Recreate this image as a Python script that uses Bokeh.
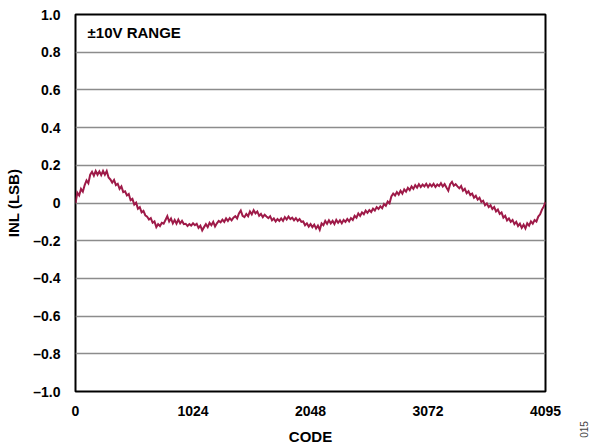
from bokeh.plotting import figure
from bokeh.models import FixedTicker, Range1d, Label, ColumnDataSource
from bokeh.embed import file_html
from bokeh.resources import INLINE
import math

# DAC code axis: measured every 16 codes, plus the final code 4095
codes = list(range(0, 4096, 16)) + [4095]

# Integral nonlinearity (LSB) at each code
inl = [
    0.000, 0.055, 0.040, 0.075, 0.060, 0.095, 0.120, 0.105, 0.150, 0.165, 0.145, 0.170, 0.150, 0.168, 0.148, 0.170,
    0.150, 0.170, 0.135, 0.125, 0.108, 0.122, 0.095, 0.102, 0.075, 0.088, 0.058, 0.062, 0.040, 0.048, 0.015, 0.022,
    -0.008, 0.002, -0.030, -0.022, -0.050, -0.042, -0.065, -0.072, -0.088, -0.080, -0.105, -0.098, -0.128, -0.112, -0.122, -0.105,
    -0.110, -0.090, -0.070, -0.098, -0.082, -0.108, -0.090, -0.110, -0.088, -0.108, -0.095, -0.112, -0.110, -0.122, -0.112, -0.120,
    -0.108, -0.118, -0.110, -0.132, -0.120, -0.145, -0.128, -0.112, -0.128, -0.105, -0.118, -0.100, -0.125, -0.108, -0.095, -0.102,
    -0.088, -0.100, -0.082, -0.095, -0.080, -0.092, -0.078, -0.070, -0.082, -0.055, -0.040, -0.068, -0.075, -0.058, -0.070, -0.045,
    -0.060, -0.038, -0.055, -0.045, -0.068, -0.058, -0.075, -0.062, -0.072, -0.080, -0.070, -0.092, -0.082, -0.098, -0.085, -0.095,
    -0.082, -0.095, -0.075, -0.088, -0.072, -0.085, -0.078, -0.092, -0.080, -0.095, -0.085, -0.100, -0.098, -0.118, -0.108, -0.125,
    -0.112, -0.128, -0.115, -0.135, -0.120, -0.142, -0.108, -0.118, -0.095, -0.110, -0.092, -0.108, -0.095, -0.112, -0.090, -0.105,
    -0.092, -0.108, -0.090, -0.100, -0.085, -0.098, -0.080, -0.090, -0.068, -0.078, -0.055, -0.068, -0.050, -0.060, -0.040, -0.052,
    -0.038, -0.048, -0.030, -0.040, -0.022, -0.032, -0.018, -0.028, -0.005, -0.015, 0.008, -0.002, 0.035, 0.050, 0.040, 0.058,
    0.045, 0.065, 0.050, 0.072, 0.060, 0.080, 0.068, 0.088, 0.075, 0.095, 0.082, 0.100, 0.085, 0.098, 0.088, 0.102,
    0.085, 0.100, 0.088, 0.102, 0.085, 0.098, 0.090, 0.105, 0.088, 0.100, 0.082, 0.065, 0.100, 0.112, 0.092, 0.100,
    0.088, 0.078, 0.090, 0.065, 0.075, 0.052, 0.062, 0.042, 0.050, 0.028, 0.038, 0.018, 0.028, 0.005, 0.012, -0.012,
    -0.002, -0.022, -0.012, -0.032, -0.022, -0.045, -0.035, -0.058, -0.050, -0.078, -0.068, -0.092, -0.082, -0.100, -0.090, -0.112,
    -0.100, -0.122, -0.110, -0.132, -0.115, -0.135, -0.108, -0.120, -0.098, -0.110, -0.090, -0.098, -0.072, -0.060, -0.035, -0.018,
    0.005,
]

x_ticks = [0, 1024, 2048, 3072, 4095]
y_ticks = [-1.0, -0.8, -0.6, -0.4, -0.2, 0.0, 0.2, 0.4, 0.6, 0.8, 1.0]
y_tick_labels = ["\u20131.0", "\u20130.8", "\u20130.6", "\u20130.4", "\u20130.2", "0",
                 "0.2", "0.4", "0.6", "0.8", "1.0"]

FONT = "Liberation Sans"

p = figure(width=592, height=447, output_backend="svg", toolbar_location=None,
           x_range=Range1d(0, 4095), y_range=Range1d(-1.0, 1.0),
           min_border_left=75, min_border_right=47, min_border_top=14, min_border_bottom=54)
p.background_fill_color = "white"
p.border_fill_color = "white"
p.outline_line_color = "black"
p.outline_line_width = 2

# gridlines: horizontal only
p.xgrid.grid_line_color = None
p.ygrid.ticker = FixedTicker(ticks=y_ticks)
p.ygrid.grid_line_color = "#8c8c8c"
p.ygrid.grid_line_width = 1.5

for ax in (p.xaxis[0], p.yaxis[0]):
    ax.axis_line_color = None
    ax.major_tick_line_color = None
    ax.minor_tick_line_color = None
    ax.major_label_text_font = FONT
    ax.major_label_text_font_style = "bold"
    ax.major_label_text_font_size = "14px"
    ax.major_label_text_color = "black"
    ax.axis_label_text_font = FONT
    ax.axis_label_text_font_style = "bold"
    ax.axis_label_text_font_size = "15px"
    ax.axis_label_text_color = "black"

p.xaxis.ticker = FixedTicker(ticks=x_ticks)
p.xaxis.major_label_standoff = 8
p.xaxis.axis_label = "CODE"
p.xaxis.axis_label_standoff = 9

p.yaxis.ticker = FixedTicker(ticks=y_ticks)
p.yaxis.major_label_overrides = {t: s for t, s in zip(y_ticks, y_tick_labels)}
p.yaxis.major_label_standoff = 9
p.yaxis.axis_label = "INL (LSB)"
p.yaxis.axis_label_standoff = 8

src = ColumnDataSource(dict(code=codes, inl=inl))
p.line("code", "inl", source=src, line_color="#9e1a48", line_width=2, line_join="miter")

p.add_layout(Label(x=105, y=0.905, text="\u00b110V RANGE", text_font=FONT, text_color="black",
                   text_font_style="bold", text_font_size="15px", text_baseline="middle"))
# figure number, set vertically in the right margin panel
p.add_layout(Label(x=38, y=-38, x_units="screen", y_units="screen", text="015",
                   angle=math.pi / 2, text_font=FONT, text_font_size="10px",
                   text_color="#444444", text_align="center", text_baseline="middle"),
             "right")

open("out.html", "w").write(file_html(p, INLINE))
